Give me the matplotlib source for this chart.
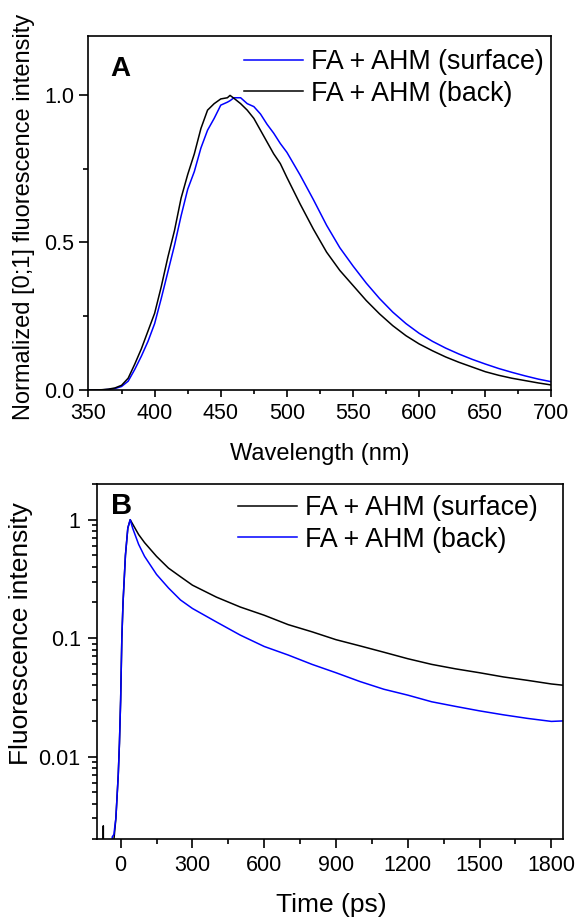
import matplotlib
matplotlib.use("Agg")
import matplotlib.pyplot as plt
from matplotlib.ticker import MultipleLocator, FixedLocator, FixedFormatter, LogLocator, NullFormatter

plt.rcParams['font.family'] = ['Liberation Sans', 'DejaVu Sans']

# --- panel A: emission spectra (normalized) ---
wl = [350, 360, 365, 370, 375, 380, 385, 390, 395, 400, 405, 410, 415, 420, 425, 430,
      435, 440, 445, 450, 455, 457, 460, 465, 470, 475, 480, 485, 490, 495, 500, 510,
      520, 530, 540, 550, 560, 570, 580, 590, 600, 610, 620, 630, 640, 650, 660, 670,
      680, 690, 700]
spec_back = [0.0, 0.001, 0.003, 0.007, 0.016, 0.04, 0.088, 0.14, 0.2, 0.26, 0.35, 0.45,
             0.54, 0.65, 0.73, 0.80, 0.886, 0.948, 0.97, 0.986, 0.99, 0.998, 0.988, 0.97,
             0.948, 0.92, 0.88, 0.84, 0.80, 0.767, 0.72, 0.63, 0.545, 0.467, 0.405, 0.354,
             0.303, 0.258, 0.218, 0.184, 0.156, 0.133, 0.112, 0.094, 0.078, 0.062, 0.05,
             0.04, 0.032, 0.024, 0.017]
spec_surface = [0.0, 0.0005, 0.002, 0.005, 0.012, 0.03, 0.07, 0.115, 0.165, 0.225, 0.31,
                0.40, 0.49, 0.59, 0.68, 0.74, 0.82, 0.88, 0.92, 0.965, 0.975, 0.98, 0.99,
                0.99, 0.97, 0.96, 0.935, 0.90, 0.87, 0.835, 0.805, 0.728, 0.645, 0.558,
                0.482, 0.42, 0.362, 0.31, 0.264, 0.225, 0.192, 0.165, 0.142, 0.122, 0.104,
                0.088, 0.073, 0.06, 0.048, 0.037, 0.028]

# --- panel B: fluorescence decays ---
t_surface = [-100, -73, -72.5, -72, -30, -20, -10, -5, 0, 5, 10, 20, 30, 40, 50, 75, 100,
             150, 200, 250, 300, 400, 500, 600, 700, 800, 900, 1000, 1100, 1200, 1300,
             1400, 1500, 1600, 1700, 1800, 1850]
dec_surface = [0.0015, 0.0015, 0.0026, 0.0015, 0.0018, 0.003, 0.007, 0.013, 0.03, 0.1,
               0.2, 0.5, 0.85, 1.0, 0.92, 0.75, 0.64, 0.49, 0.39, 0.33, 0.28, 0.222,
               0.183, 0.156, 0.13, 0.113, 0.097, 0.086, 0.076, 0.067, 0.06, 0.055, 0.051,
               0.047, 0.044, 0.041, 0.04]
t_back = [-45, -38, -35, -28, -25, -20, -10, -5, 0, 5, 10, 20, 30, 40, 50, 75, 100, 150,
          200, 250, 300, 400, 500, 600, 700, 800, 900, 1000, 1100, 1200, 1300, 1400,
          1500, 1600, 1700, 1800, 1850]
dec_back = [0.0015, 0.0015, 0.0021, 0.0022, 0.0025, 0.003, 0.007, 0.013, 0.03, 0.1, 0.2,
            0.5, 0.85, 1.0, 0.85, 0.62, 0.49, 0.345, 0.265, 0.21, 0.178, 0.137, 0.106,
            0.085, 0.072, 0.06, 0.051, 0.043, 0.037, 0.033, 0.029, 0.0265, 0.0243,
            0.0225, 0.021, 0.0198, 0.02]

lab_surface = "FA + AHM (surface)"
lab_back = "FA + AHM (back)"

blue = "#0000ff"
lw = 1.1

fig = plt.figure(figsize=(5.75, 9.19), dpi=100)

# ---------------- A ----------------
axA = fig.add_axes([0.1539, 0.5756, 0.8052, 0.3855])
axA.plot(wl, spec_surface, color=blue, lw=lw, label=lab_surface)
axA.plot(wl, spec_back, color="black", lw=lw, label=lab_back)
axA.set_xlim(350, 700)
axA.set_ylim(0, 1.2)
axA.xaxis.set_major_locator(MultipleLocator(50))
axA.xaxis.set_minor_locator(MultipleLocator(25))
axA.yaxis.set_major_locator(FixedLocator([0, 0.5, 1.0]))
axA.yaxis.set_major_formatter(FixedFormatter(["0.0", "0.5", "1.0"]))
axA.yaxis.set_minor_locator(FixedLocator([0.25, 0.75]))
axA.tick_params(axis="x", which="major", direction="out", length=5, width=1.2,
                labelsize=15.5, pad=4)
axA.tick_params(axis="x", which="minor", direction="out", length=3, width=1.2)
axA.tick_params(axis="y", which="major", direction="out", length=6.5, width=1.2,
                labelsize=15.5, pad=4)
axA.tick_params(axis="y", which="minor", direction="out", length=3.5, width=1.2)
axA.set_xlabel("Wavelength (nm)", fontsize=17)
axA.set_ylabel("Normalized [0;1] fluorescence intensity", fontsize=17)
axA.xaxis.set_label_coords(0.5, -0.18)
axA.xaxis.label.set_va("center")
axA.yaxis.set_label_coords(-0.14, 0.489)
axA.yaxis.label.set_va("center")
axA.text(0.069, 0.906, "A", transform=axA.transAxes, fontsize=20, fontweight="bold",
         ha="center", va="center")
axA.legend(loc="upper right", bbox_to_anchor=(0.983, 0.962), frameon=False, fontsize=19.3,
           handlelength=2.2, handletextpad=0.3, labelspacing=0.2, borderpad=0,
           borderaxespad=0)

# ---------------- B ----------------
axB = fig.add_axes([0.1682, 0.0867, 0.8115, 0.3866])
axB.plot(t_surface, dec_surface, color="black", lw=lw, label=lab_surface)
axB.plot(t_back, dec_back, color=blue, lw=lw, label=lab_back)
axB.set_yscale("log")
axB.set_xlim(-100, 1850)
axB.set_ylim(0.002, 2)
axB.xaxis.set_major_locator(MultipleLocator(300))
axB.xaxis.set_minor_locator(MultipleLocator(150))
axB.yaxis.set_major_locator(FixedLocator([0.01, 0.1, 1]))
axB.yaxis.set_major_formatter(FixedFormatter(["0.01", "0.1", "1"]))
axB.yaxis.set_minor_locator(LogLocator(base=10, subs=range(2, 10)))
axB.yaxis.set_minor_formatter(NullFormatter())
axB.tick_params(axis="both", which="major", direction="out", length=6.5, width=1.2,
                labelsize=15.5, pad=5)
axB.tick_params(axis="both", which="minor", direction="out", length=3.5, width=1.2)
axB.set_xlabel("Time (ps)", fontsize=19)
axB.set_ylabel("Fluorescence intensity", fontsize=19)
axB.xaxis.set_label_coords(0.502, -0.185)
axB.xaxis.label.set_va("center")
axB.yaxis.set_label_coords(-0.162, 0.578)
axB.yaxis.label.set_va("center")
axB.text(0.053, 0.937, "B", transform=axB.transAxes, fontsize=21, fontweight="bold",
         ha="center", va="center")
axB.legend(loc="upper right", bbox_to_anchor=(0.946, 0.968), frameon=False, fontsize=19.3,
           handlelength=2.2, handletextpad=0.3, labelspacing=0.2, borderpad=0,
           borderaxespad=0)

for ax in (axA, axB):
    for sp in ax.spines.values():
        sp.set_linewidth(1.2)

fig.savefig("out.png", dpi=100)
